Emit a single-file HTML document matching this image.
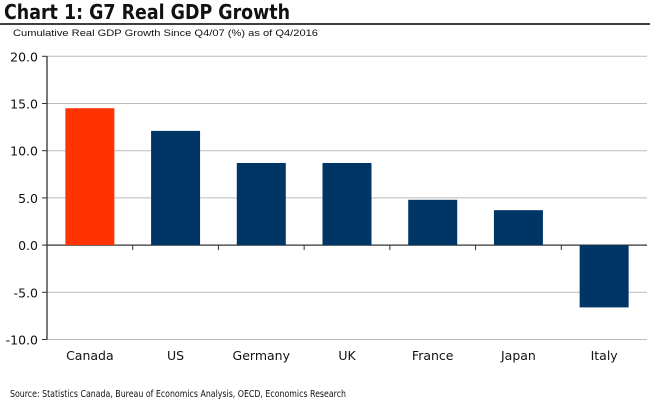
<!DOCTYPE html>
<html><head><meta charset="utf-8"><style>
body{margin:0;background:#fff;width:650px;height:403px;overflow:hidden;font-family:"DejaVu Sans","Liberation Sans",sans-serif}
</style></head><body>
<svg width="650" height="403" xmlns="http://www.w3.org/2000/svg">
<text x="4" y="19" font-size="20" font-weight="bold" fill="#111" textLength="286" lengthAdjust="spacingAndGlyphs">Chart 1:  G7 Real GDP Growth</text>
<line x1="0" y1="24" x2="650" y2="24" stroke="#000" stroke-width="1.5"/>
<text x="13" y="36" font-size="9.5" font-family="Liberation Sans, sans-serif" fill="#111" textLength="305" lengthAdjust="spacingAndGlyphs">Cumulative  Real  GDP  Growth  Since  Q4/07  (%)  as  of  Q4/2016</text>
<g id="plot"></g>
<text x="10" y="397" font-size="10" fill="#111" textLength="336" lengthAdjust="spacingAndGlyphs">Source: Statistics Canada, Bureau of Economics Analysis, OECD, Economics Research</text>
</svg>
<script>
const categories=["Canada","US","Germany","UK","France","Japan","Italy"];
const values=[14.5,12.1,8.7,8.7,4.8,3.7,-6.6];
const tickValues=[20,15,10,5,0,-5,-10];
const tickLabels=["20.0","15.0","10.0","5.0","0.0","-5.0","-10.0"];
const NS="http://www.w3.org/2000/svg";
const g=document.getElementById('plot');
const x0=47,x1=647,yTop=56.3,yBot=339.5,vMax=20,vMin=-10;
const y=v=>yTop+(vMax-v)/(vMax-vMin)*(yBot-yTop);
const band=(x1-x0)/categories.length;
function mk(t,a){const e=document.createElementNS(NS,t);for(const k in a)e.setAttribute(k,a[k]);g.appendChild(e);return e;}
tickValues.forEach((v,i)=>{
 const l=mk('line',{x1:x0,x2:x1,y1:y(v),y2:y(v),stroke:v===0?'#333':'#bbb','stroke-width':v===0?1.3:1});
 
 
 const t=mk('line',{x1:x0-5,x2:x0,y1:y(v),y2:y(v),stroke:'#333'});
 
 
 const tx=mk('text',{x:x0-9,y:y(v)+5,'text-anchor':'end','font-size':12.5,fill:'#111'});
 tx.textContent=tickLabels[i];
 
 
});
const ax=mk('line',{x1:x0,x2:x0,y1:yTop,y2:yBot,stroke:'#333','stroke-width':1.3});


categories.forEach((c,i)=>{
 const cx=x0+band*(i+0.5),w=49,v=values[i];
 const r=mk('rect',{x:cx-w/2,width:w,y:Math.min(y(v),y(0)),height:Math.abs(y(v)-y(0)),fill:i===0?'#ff3300':'#003665'});
 
 
 if(i>0){const t=mk('line',{x1:x0+band*i,x2:x0+band*i,y1:y(0),y2:y(0)+5,stroke:'#333'});
 
 }
 const tx=mk('text',{x:cx,y:360,'text-anchor':'middle','font-size':12.5,fill:'#111'});
 tx.textContent=c;
 
 
});
</script>
</body></html>
